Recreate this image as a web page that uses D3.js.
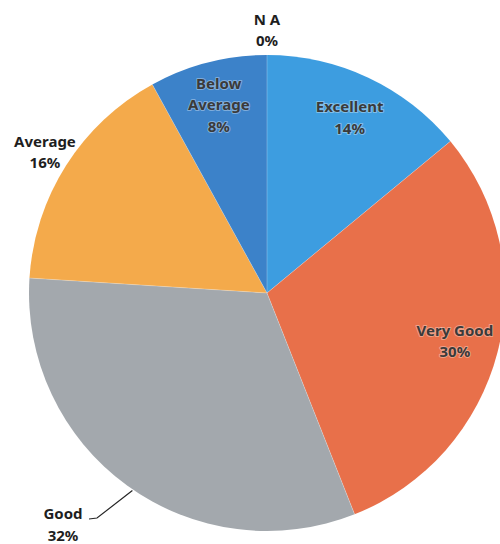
<!DOCTYPE html>
<html>
<head>
<meta charset="utf-8">
<script src="https://cdn.jsdelivr.net/npm/d3@7"></script>
<style>
  html, body { margin: 0; padding: 0; background: #ffffff; }
  svg { display: block; }
  text { font-family: "Noto Sans", "Open Sans", sans-serif; font-weight: bold; }
</style>
</head>
<body>
<svg id="chart" width="500" height="544"></svg>
<script>
// ---- data ----
const categories = ["Excellent", "Very Good", "Good", "Average", "Below Average", "N A"];
const values = [14, 30, 32, 16, 8, 0];
const percentLabels = ["14%", "30%", "32%", "16%", "8%", "0%"];
const sliceColors = ["#3d9de0", "#e8704a", "#a3a8ad", "#f4aa4b", "#3c82c9", "#8a8a8a"];

// ---- layout ----
const W = 500, H = 544;
const cx = 267, cy = 293, R = 238;
const svg = d3.select("#chart");
const g = svg.append("g").attr("transform", `translate(${cx},${cy})`);

const rows = categories.map((c, i) => ({ name: c, value: values[i], pct: percentLabels[i], color: sliceColors[i] }));

const pie = d3.pie().value(d => d.value).sort(null).startAngle(0).endAngle(2 * Math.PI);
const arcs = pie(rows);
const arc = d3.arc().innerRadius(0).outerRadius(R);

g.selectAll("path.slice")
  .data(arcs)
  .join("path")
  .attr("class", "slice")
  .attr("d", arc)
  .attr("fill", d => d.data.color);

// subtle divider lines between slices
g.selectAll("line.div")
  .data(arcs.filter(d => d.data.value > 0))
  .join("line")
  .attr("x1", 0).attr("y1", 0)
  .attr("x2", d => R * Math.sin(d.startAngle))
  .attr("y2", d => -R * Math.cos(d.startAngle))
  .attr("stroke", "rgba(255,255,255,0.25)")
  .attr("stroke-width", 1);

// label placement rules
const insideR = R * 0.815, outsideR = R * 1.105;
const outside = new Set(["Average", "N A", "Good"]);
const fontSize = 15, lineH = 21.5, capH = 10.7;

function polar(r, a) { return [r * Math.sin(a), -r * Math.cos(a)]; }

arcs.forEach(d => {
  const mid = (d.startAngle + d.endAngle) / 2;
  const isOut = outside.has(d.data.name);
  let [x, y] = polar(isOut ? outsideR : insideR, mid);
  let lines = d.data.name === "Below Average" ? ["Below", "Average", d.data.pct] : [d.data.name, d.data.pct];

  if (d.data.name === "Good") {
    // label pulled out with a leader line
    const [sx, sy] = polar(R + 1, mid - 0.03);
    x = 63 - cx; y = 524.5 - cy;
    const bx = x + 26, by = y - 5.5;
    g.append("path")
      .attr("d", `M${sx},${sy} L${bx + 8},${by - 1} L${bx},${by}`)
      .attr("fill", "none").attr("stroke", "#262626").attr("stroke-width", 1.2);
  }

  const block = capH + (lines.length - 1) * lineH;
  const firstBase = y - block / 2 + capH;
  const t = g.append("text")
    .attr("text-anchor", "middle")
    .attr("font-size", fontSize)
    .attr("fill", isOut ? "#1e1e1e" : "#3a3a3a");
  if (!isOut) {
    t.attr("stroke", "rgba(255,255,255,0.35)").attr("stroke-width", 2)
     .attr("paint-order", "stroke").attr("stroke-linejoin", "round");
  }
  lines.forEach((ln, i) => {
    t.append("tspan").attr("x", x).attr("y", firstBase + i * lineH).text(ln);
  });
});
</script>
</body>
</html>
